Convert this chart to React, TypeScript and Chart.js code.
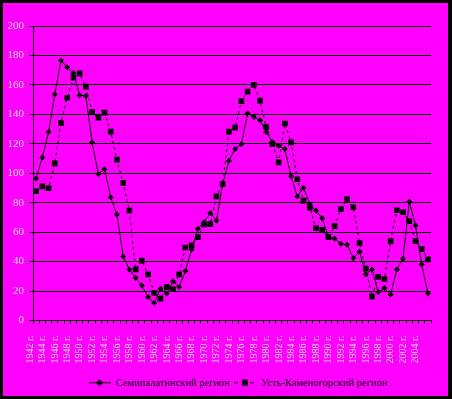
import React, { useEffect, useRef } from "react";
import { Chart, registerables } from "chart.js";

Chart.register(...registerables);

const years: string[] = [];
for (let y = 1942; y <= 2005; y++) years.push(y + " г.");

const semipalatinsk = [
  96.5, 110.7, 128, 153.6, 176.6, 172, 168, 153, 152.4, 121,
  99.5, 102.8, 83.7, 72, 43.5, 34.7, 29, 23.7, 15.9, 11.8,
  21.6, 18.3, 26.6, 22.8, 33.6, 48.2, 62.2, 66.8, 73, 67.9,
  92.7, 108.5, 116.4, 119.8, 140.7, 138.2, 136, 128, 121.3, 118.6,
  116.4, 97.9, 84.2, 90.2, 79, 74.5, 69.5, 57, 55.5, 52.1,
  51.4, 42.4, 46.9, 31.3, 34.7, 19.4, 22.1, 17.6, 34.7, 41.9,
  80.7, 64.5, 38.1, 18.3,
];

const ustKamenogorsk = [
  87.8, 91.1, 89.8, 106.7, 134, 151.3, 164.9, 167.8, 158.8, 141.6,
  137.8, 141.2, 128.3, 109.2, 93.4, 74.7, 34.7, 40.7, 31.3, 18.7,
  14.9, 22.8, 21.2, 31.3, 49.6, 51, 56.6, 65.2, 65.4, 84.3,
  92.7, 128.3, 131, 149, 155.4, 160.1, 149.3, 131.5, 119.8, 107.4,
  133.8, 121, 95.9, 81.4, 76.7, 62.7, 61.6, 56.6, 64.1, 75.6,
  82.5, 76.9, 52.6, 35.2, 16.2, 29.6, 28.2, 53.9, 74.9, 73.5,
  67.5, 53.9, 48.5, 41.5,
];

const seriesNames = ["Семипалатинский регион", "Усть-Каменогорский регион"];

function makeIcon(dashed: boolean, square: boolean): HTMLCanvasElement {
  const c = document.createElement("canvas");
  c.width = 22;
  c.height = 9;
  const ctx = c.getContext("2d")!;
  ctx.strokeStyle = "#000";
  ctx.lineWidth = 1;
  if (dashed) ctx.setLineDash([4, 4]);
  ctx.beginPath();
  ctx.moveTo(0, 4.5);
  ctx.lineTo(22, 4.5);
  ctx.stroke();
  ctx.setLineDash([]);
  ctx.fillStyle = "#000";
  if (square) {
    ctx.fillRect(8, 1.5, 6, 6);
  } else {
    ctx.beginPath();
    ctx.moveTo(11, 1);
    ctx.lineTo(14.5, 4.5);
    ctx.lineTo(11, 8);
    ctx.lineTo(7.5, 4.5);
    ctx.closePath();
    ctx.fill();
  }
  return c;
}

const framePlugin = {
  id: "frame",
  beforeDraw(chart: any) {
    const { ctx, width, height } = chart;
    ctx.save();
    ctx.fillStyle = "#000000";
    ctx.fillRect(0, 0, width, height);
    ctx.fillStyle = "#FF00FF";
    ctx.fillRect(3, 3, width - 7, height - 6);
    ctx.restore();
  },
  afterLayout(chart: any) {
    if (chart.legend) {
      chart.legend.left += 6;
      chart.legend.right += 6;
    }
  },
};

export default function App() {
  const ref = useRef<HTMLCanvasElement>(null);
  useEffect(() => {
    const icons = [makeIcon(false, false), makeIcon(true, true)];
    const chart = new Chart(ref.current!, {
      type: "line",
      data: {
        labels: years,
        datasets: [
          {
            label: seriesNames[0],
            data: semipalatinsk,
            borderColor: "#000",
            backgroundColor: "#000",
            borderWidth: 1,
            pointStyle: "rectRot",
            pointRadius: 3,
            pointBackgroundColor: "#000",
            pointBorderColor: "#000",
            pointBorderWidth: 0,
            tension: 0,
          },
          {
            label: seriesNames[1],
            data: ustKamenogorsk,
            borderColor: "#000",
            backgroundColor: "#000",
            borderWidth: 1,
            borderDash: [3, 3],
            pointStyle: "rect",
            pointRadius: 4,
            pointBackgroundColor: "#000",
            pointBorderColor: "#000",
            pointBorderWidth: 0,
            tension: 0,
          },
        ],
      },
      options: {
        animation: false,
        responsive: false,
        devicePixelRatio: 1,
        layout: { padding: { left: 0, right: 8, top: 26, bottom: 1 } },
        plugins: {
          tooltip: { enabled: false },
          legend: {
            position: "bottom",
            fullSize: false,
            labels: {
              usePointStyle: true,
              pointStyleWidth: 22,
              padding: 4,
              color: "#000",
              font: { family: "Liberation Serif", size: 10.5 },
              generateLabels: () =>
                seriesNames.map((n, i) => ({
                  text: n,
                  pointStyle: icons[i] as any,
                  fillStyle: "#000",
                  strokeStyle: "#000",
                  lineWidth: 0,
                  hidden: false,
                  datasetIndex: i,
                })),
            },
          },
        },
        scales: {
          x: {
            type: "category",
            offset: true,
            afterFit: (s: any) => {
              s.height = 53;
            },
            grid: {
              offset: true,
              drawOnChartArea: false,
              drawTicks: true,
              tickLength: 3,
              color: "#000",
            },
            border: { color: "#000", width: 1 },
            ticks: {
              autoSkip: false,
              minRotation: 90,
              maxRotation: 90,
              padding: 12,
              labelOffset: -6,
              color: "#dcdcdc",
              font: { family: "Liberation Serif", size: 10 },
              callback: (_v: any, i: number) => (i % 2 === 0 ? years[i] : ""),
            },
          },
          y: {
            min: 0,
            max: 200,
            afterFit: (s: any) => {
              s.width = 33;
            },
            grid: {
              color: "#000",
              lineWidth: 1,
              drawTicks: true,
              tickLength: 4,
            },
            border: { color: "#000", width: 1 },
            ticks: {
              stepSize: 20,
              padding: 5,
              color: "#dcdcdc",
              font: { family: "Liberation Serif", size: 11 },
            },
          },
        },
      },
      plugins: [framePlugin],
    });
    return () => chart.destroy();
  }, []);
  return (
    <div style={{ position: "absolute", left: 0, top: 0, width: 452, height: 399 }}>
      <canvas ref={ref} width={452} height={399} style={{ width: 452, height: 399 }} />
    </div>
  );
}
